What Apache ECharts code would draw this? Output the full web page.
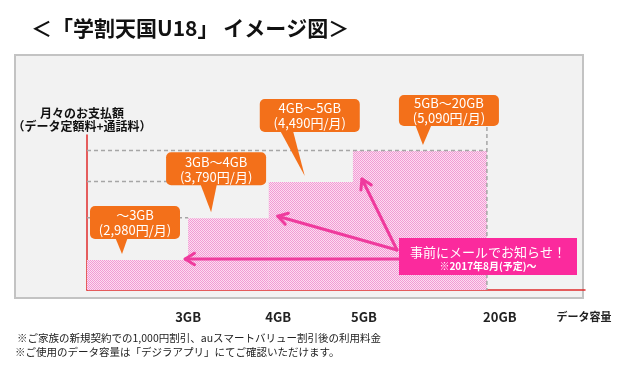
<!DOCTYPE html>
<html><head><meta charset="utf-8">
<script src="https://cdn.jsdelivr.net/npm/echarts@6/dist/echarts.min.js"></script>
<style>html,body{margin:0;padding:0;background:#fff}#c{width:622px;height:389px}</style>
</head><body><div id="c"></div>
<script>
// ---- data ----
const tierNames = ['～3GB', '3GB～4GB', '4GB～5GB', '5GB～20GB'];
const tierPrices = [2980, 3790, 4490, 5090];
const tierStart = [0, 2.03, 3.65, 5.34];      // schematic data-volume axis units
const tierEnd = [2.03, 3.65, 5.34, 8.03];
const tickPos = [2.03, 3.84, 5.56, 8.29, 9.98];
const tickLabels = ['3GB', '4GB', '5GB', '20GB', 'データ容量'];
const titleText = '＜「学割天国U18」 イメージ図＞';
const yNameLines = ['月々のお支払額', '（データ定額料+通話料）'];
const noticeLines = ['事前にメールでお知らせ！', '※2017年8月(予定)～'];
const footnotes = ['※ご家族の新規契約での1,000円割引、auスマートバリュー割引後の利用料金',
                   '※ご使用のデータ容量は「デジラアプリ」にてご確認いただけます。'];
const yMin = 2400, yMax = 5400, xMax = 10;

// ---- layout / style ----
const FONT = '"Noto Sans CJK JP", "Noto Sans", sans-serif';
const ORANGE = '#f3701a', MAGENTA = '#fb2a9d', ARROW = '#ef3a9d', RED = '#e02b2b';
const calloutTipDx = [35, 23, 36, 70], calloutTipDy = -6;
const boxLeft = [-32, -45, -45, -24], boxBottom = [-15, -27, -44, -19];
const boxW = [90, 100, 100, 100], boxH = [33, 33, 33, 31];
const tailBase = [[-7, 6], [-11, 6], [-25, -12], [-8, 9]];
const arrowDx = [-3, 9, 9], arrowDy = [-1, -2, -3];
const arrowFrom = [[399, null], [397, 250], [397, 250]];
const noticeBox = {x: 399, y: 238, w: 178, h: 37};

const pc = document.createElement('canvas');
pc.width = 2; pc.height = 2;
const g = pc.getContext('2d');
g.fillStyle = '#fcdcf0'; g.fillRect(0, 0, 2, 2);
g.fillStyle = '#f29ad4'; g.fillRect(0, 0, 1, 1); g.fillRect(1, 1, 1, 1);
const pattern = {image: pc, repeat: 'repeat'};

const fmtPrice = v => '(' + v.toLocaleString('en-US') + '円/月)';
const tierData = tierStart.map((s, i) => [s, tierEnd[i], tierPrices[i]]);

const chart = echarts.init(document.getElementById('c'), null, {renderer: 'canvas'});
chart.setOption({
  animation: false,
  textStyle: {fontFamily: FONT},
  grid: {left: 87, right: 37, top: 135, bottom: 99},
  xAxis: {
    type: 'value', min: 0, max: xMax,
    axisLine: {show: true, lineStyle: {color: RED, width: 1.5}},
    axisTick: {show: false}, splitLine: {show: false},
    axisLabel: {
      customValues: tickPos, margin: 21, color: '#222', fontWeight: 'bold', fontSize: 13,
      formatter: v => {
        const i = tickPos.findIndex(p => Math.abs(p - v) < 1e-6);
        if (i < 0) return '';
        return i === tickLabels.length - 1 ? '{s|' + tickLabels[i] + '}' : tickLabels[i];
      },
      rich: {s: {fontSize: 11, fontWeight: 'bold', color: '#222', fontFamily: FONT}}
    }
  },
  yAxis: {
    type: 'value', min: yMin, max: yMax,
    name: yNameLines.join('\n'), nameLocation: 'end', nameGap: 2,
    nameTextStyle: {align: 'center', fontWeight: 'bold', fontSize: 12, lineHeight: 13, color: '#111', padding: [0, 10, 0, 0]},
    axisLine: {show: true, lineStyle: {color: RED, width: 1.5}},
    axisTick: {show: false}, axisLabel: {show: false}, splitLine: {show: false}
  },
  graphic: [
    {type: 'rect', z: -10, silent: true, shape: {x: 15, y: 55, width: 568, height: 243},
     style: {fill: '#f2f2f2', stroke: '#c3c3c3', lineWidth: 2}},
    {type: 'text', left: 31, top: 18, style: {text: titleText, font: 'bold 21px ' + FONT, fill: '#111'}},
    {type: 'text', left: 17, top: 333, style: {text: footnotes[0], font: '10.5px ' + FONT, fill: '#222'}},
    {type: 'text', left: 15, top: 347, style: {text: footnotes[1], font: '10.5px ' + FONT, fill: '#222'}}
  ],
  series: [
    {
      type: 'custom', z: 2, data: tierData, encode: {x: [0, 1], y: 2},
      renderItem: (params, api) => {
        const i = params.dataIndex;
        const s = api.value(0), e = api.value(1), v = api.value(2);
        const p0 = api.coord([s, v]), p1 = api.coord([e, yMin]), pa = api.coord([0, v]);
        const children = [{type: 'rect', shape: {x: p0[0], y: p0[1], width: p1[0] - p0[0], height: p1[1] - p0[1]}, style: {fill: pattern}}];
        const dash = {stroke: '#a6a6a6', lineWidth: 1.5, lineDash: [4, 3]};
        const last = i === tierData.length - 1;
        if (i > 0) children.push({type: 'line', shape: {x1: pa[0], y1: p0[1] - 0.5, x2: last ? p1[0] : p0[0], y2: p0[1] - 0.5}, style: dash});
        if (last) children.push({type: 'line', z2: 5, shape: {x1: p1[0], y1: p0[1] - 24, x2: p1[0], y2: p1[1]}, style: dash});
        return {type: 'group', children};
      }
    },
    {
      type: 'custom', z: 4, data: tierData.slice(0, 3).map(d => [d[1], d[2]]), encode: {x: 0, y: 1},
      renderItem: (params, api) => {
        const i = params.dataIndex;
        const t = api.coord([api.value(0), api.value(1)]);
        const tx = t[0] + arrowDx[i], ty = t[1] + arrowDy[i];
        const ox = arrowFrom[i][0], oy = arrowFrom[i][1] == null ? ty : arrowFrom[i][1];
        const ang = Math.atan2(ty - oy, tx - ox);
        const L = 11, a = 0.55;
        const h1 = [tx - L * Math.cos(ang - a), ty - L * Math.sin(ang - a)];
        const h2 = [tx - L * Math.cos(ang + a), ty - L * Math.sin(ang + a)];
        const st = {stroke: ARROW, lineWidth: 3, lineCap: 'round', lineJoin: 'round', fill: null};
        return {type: 'group', children: [
          {type: 'line', shape: {x1: ox, y1: oy, x2: tx, y2: ty}, style: st},
          {type: 'polyline', shape: {points: [h1, [tx, ty], h2]}, style: st}
        ]};
      }
    },
    {
      type: 'custom', z: 6, data: tierData, encode: {x: [0, 1], y: 2},
      renderItem: (params, api) => {
        const i = params.dataIndex;
        const p = api.coord([api.value(0), api.value(2)]);
        const tx = p[0] + calloutTipDx[i], ty = p[1] + calloutTipDy;
        const bx = tx + boxLeft[i], bb = ty + boxBottom[i], bw = boxW[i], bh = boxH[i], by = bb - bh;
        const cx = bx + bw / 2;
        return {type: 'group', children: [
          {type: 'polygon', shape: {points: [[tx + tailBase[i][0], bb - 2], [tx + tailBase[i][1], bb - 2], [tx, ty]]}, style: {fill: ORANGE}},
          {type: 'rect', shape: {x: bx, y: by, width: bw, height: bh, r: 5}, style: {fill: ORANGE}},
          {type: 'text', style: {x: cx, y: by + bh / 2 - 7, text: tierNames[i], align: 'center', verticalAlign: 'middle', font: '13px ' + FONT, fill: '#fff'}},
          {type: 'text', style: {x: cx, y: by + bh / 2 + 8, text: fmtPrice(tierPrices[i]), align: 'center', verticalAlign: 'middle', font: '13px ' + FONT, fill: '#fff'}}
        ]};
      }
    },
    {
      type: 'custom', z: 8, data: [[0, yMin]], encode: {x: 0, y: 1},
      renderItem: () => ({type: 'group', children: [
        {type: 'rect', shape: {x: noticeBox.x, y: noticeBox.y, width: noticeBox.w, height: noticeBox.h}, style: {fill: MAGENTA}},
        {type: 'text', style: {x: noticeBox.x + noticeBox.w / 2, y: noticeBox.y + 14, text: noticeLines[0], align: 'center', verticalAlign: 'middle', font: '13px ' + FONT, fill: '#fff'}},
        {type: 'text', style: {x: noticeBox.x + noticeBox.w / 2, y: noticeBox.y + 28, text: noticeLines[1], align: 'center', verticalAlign: 'middle', font: 'bold 10px ' + FONT, fill: '#fff'}}
      ]})
    }
  ]
});
</script>
</body></html>
